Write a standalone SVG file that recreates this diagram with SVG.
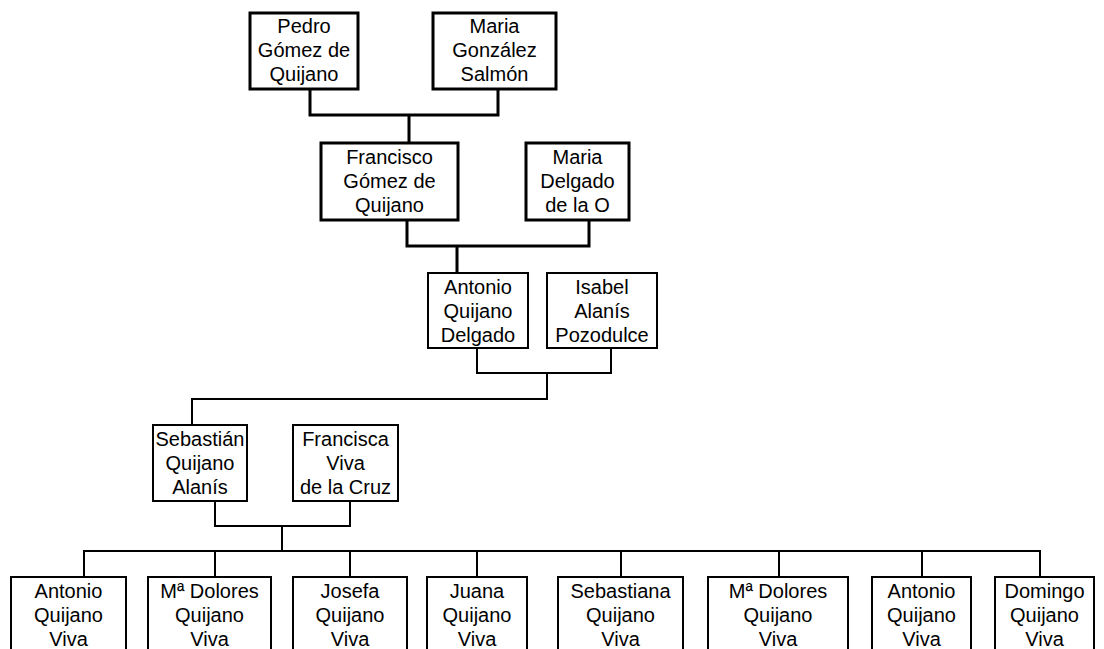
<svg xmlns="http://www.w3.org/2000/svg" width="1104" height="649" viewBox="0 0 1104 649">
<style>
rect{fill:#fff;stroke:#000}
.thick{stroke-width:3}
.thin{stroke-width:2}
text{font-family:"Liberation Sans",Arial,sans-serif;font-size:20px;text-anchor:middle;fill:#000}
#connectors path{fill:none;stroke:#000}
</style>
<rect width="1104" height="649" fill="#fff" style="stroke:none"/>
<g id="connectors">
<path class="thick" d="M310 89V115H498V89M409 115V143"/>
<path class="thick" d="M407 220V246H589V220M457 246V272"/>
<path class="thin" d="M477 348V373H611V348M547 373V399H192V425"/>
<path class="thin" d="M215 501V526H350V501M282 526V551"/>
<path class="thin" d="M84 577V551H1040V577M215 551V577M350 551V577M477 551V577M621 551V577M779 551V577M922 551V577"/>
</g>
<g id="pedro"><rect class="thick" x="250" y="13" width="108" height="76"/><text x="304" y="33">Pedro</text><text x="304" y="57">Gómez de</text><text x="304" y="81">Quijano</text></g>
<g id="maria-gonzalez"><rect class="thick" x="433" y="13" width="123" height="76"/><text x="494.5" y="33">Maria</text><text x="494.5" y="57">González</text><text x="494.5" y="81">Salmón</text></g>
<g id="francisco"><rect class="thick" x="321" y="143" width="137" height="77"/><text x="389.5" y="164">Francisco</text><text x="389.5" y="188">Gómez de</text><text x="389.5" y="212">Quijano</text></g>
<g id="maria-delgado"><rect class="thick" x="526" y="143" width="103" height="77"/><text x="577.5" y="164">Maria</text><text x="577.5" y="188">Delgado</text><text x="577.5" y="212">de la O</text></g>
<g id="antonio-qd"><rect class="thin" x="428" y="273" width="100" height="75"/><text x="478" y="294">Antonio</text><text x="478" y="318">Quijano</text><text x="478" y="342">Delgado</text></g>
<g id="isabel"><rect class="thin" x="547" y="273" width="110" height="75"/><text x="602" y="294">Isabel</text><text x="602" y="318">Alanís</text><text x="602" y="342">Pozodulce</text></g>
<g id="sebastian"><rect class="thin" x="153" y="425" width="94" height="76"/><text x="200" y="446">Sebastián</text><text x="200" y="470">Quijano</text><text x="200" y="494">Alanís</text></g>
<g id="francisca"><rect class="thin" x="293" y="425" width="105" height="76"/><text x="345.5" y="446">Francisca</text><text x="345.5" y="470">Viva</text><text x="345.5" y="494">de la Cruz</text></g>
<g id="c1"><rect class="thin" x="11" y="577" width="115" height="80"/><text x="68.5" y="598">Antonio</text><text x="68.5" y="622">Quijano</text><text x="68.5" y="646">Viva</text></g>
<g id="c2"><rect class="thin" x="148" y="577" width="123" height="80"/><text x="209.5" y="598">Mª Dolores</text><text x="209.5" y="622">Quijano</text><text x="209.5" y="646">Viva</text></g>
<g id="c3"><rect class="thin" x="293" y="577" width="114" height="80"/><text x="350" y="598">Josefa</text><text x="350" y="622">Quijano</text><text x="350" y="646">Viva</text></g>
<g id="c4"><rect class="thin" x="427" y="577" width="100" height="80"/><text x="477" y="598">Juana</text><text x="477" y="622">Quijano</text><text x="477" y="646">Viva</text></g>
<g id="c5"><rect class="thin" x="558" y="577" width="125" height="80"/><text x="620.5" y="598">Sebastiana</text><text x="620.5" y="622">Quijano</text><text x="620.5" y="646">Viva</text></g>
<g id="c6"><rect class="thin" x="708" y="577" width="140" height="80"/><text x="778" y="598">Mª Dolores</text><text x="778" y="622">Quijano</text><text x="778" y="646">Viva</text></g>
<g id="c7"><rect class="thin" x="872" y="577" width="99" height="80"/><text x="921.5" y="598">Antonio</text><text x="921.5" y="622">Quijano</text><text x="921.5" y="646">Viva</text></g>
<g id="c8"><rect class="thin" x="995" y="577" width="99" height="80"/><text x="1044.5" y="598">Domingo</text><text x="1044.5" y="622">Quijano</text><text x="1044.5" y="646">Viva</text></g>
</svg>
